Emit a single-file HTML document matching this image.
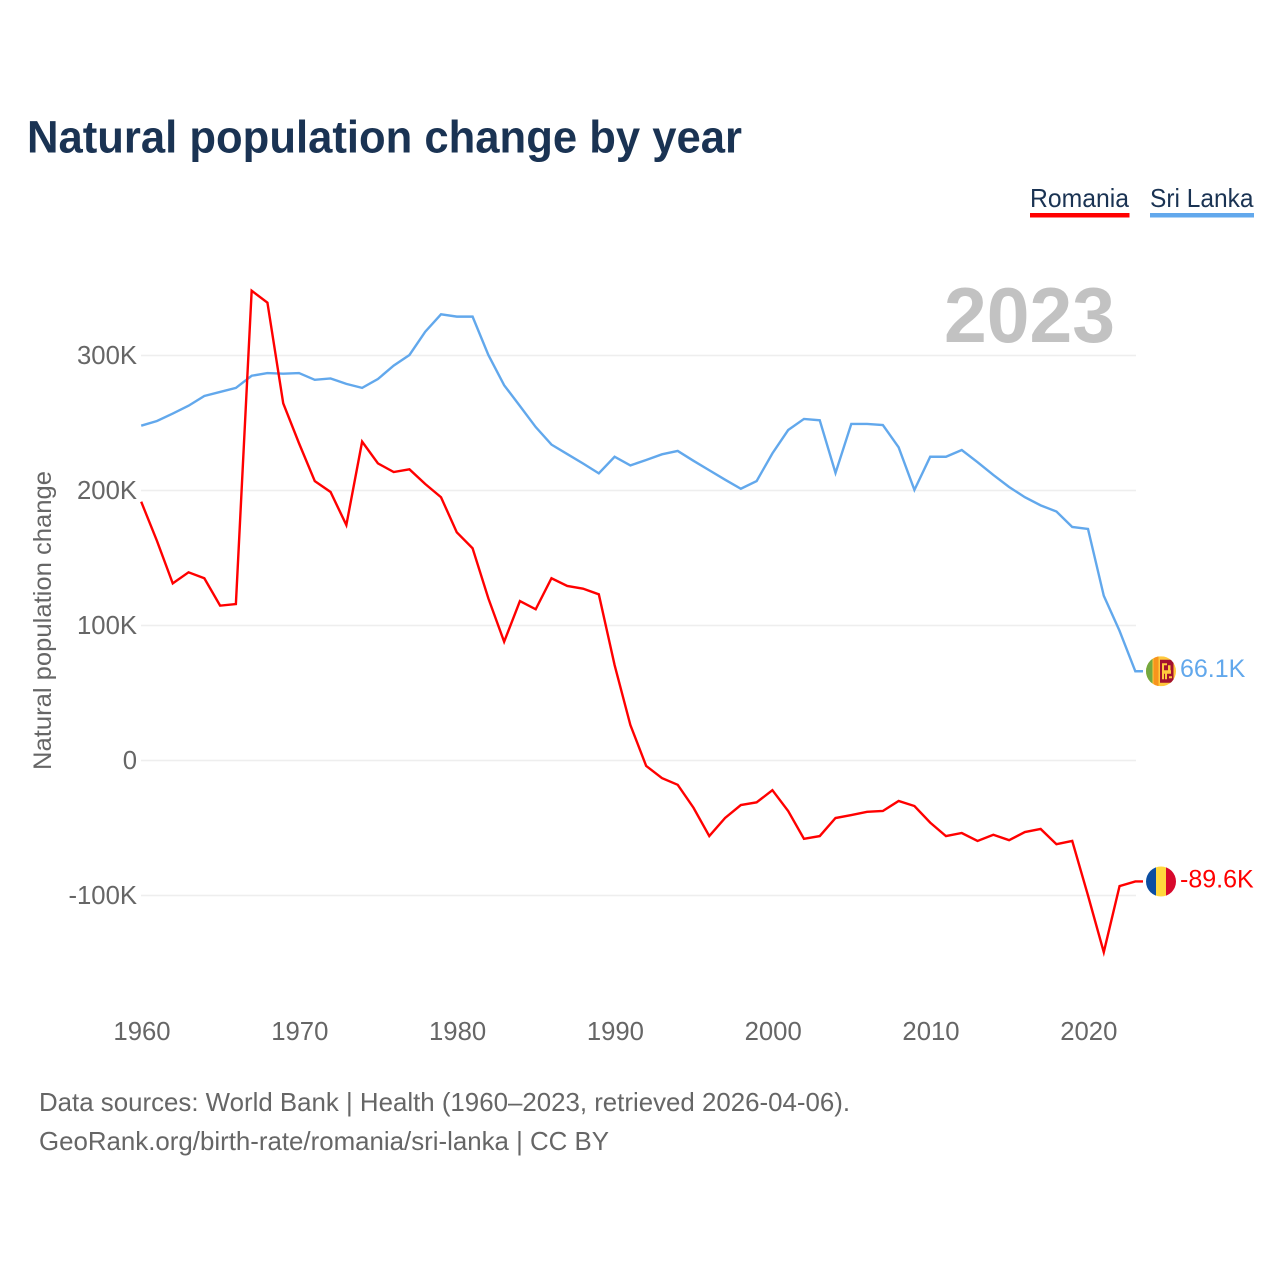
<!DOCTYPE html>
<html lang="en">
<head>
<meta charset="utf-8">
<title>Natural population change by year</title>
<style>
html,body{margin:0;padding:0;background:#fff;}
svg{display:block;}
text{font-family:"Liberation Sans",sans-serif;}
</style>
</head>
<body>
<svg id="chart" xmlns="http://www.w3.org/2000/svg" width="1280" height="1280" viewBox="0 0 1280 1280">
  <rect x="0" y="0" width="1280" height="1280" fill="#ffffff"/>
  <defs>
    <clipPath id="flag-clip"><circle cx="0" cy="0" r="15"/></clipPath>
  </defs>
  <text x="27" y="152.5" font-size="45" font-weight="700" fill="#1a3353" textLength="715" lengthAdjust="spacingAndGlyphs">Natural population change by year</text>

  <text x="1030" y="207" font-size="26" fill="#1a3353" textLength="99" lengthAdjust="spacingAndGlyphs">Romania</text>
  <rect x="1030" y="213" width="99.5" height="4.5" fill="#ff0000"/>
  <text x="1150" y="207" font-size="26" fill="#1a3353" textLength="103.5" lengthAdjust="spacingAndGlyphs">Sri Lanka</text>
  <rect x="1150" y="213" width="104" height="4.5" fill="#62a8ec"/>

  <g id="grid"></g>
  <g id="y-axis"></g>
  <g id="x-axis"></g>

  <text x="944" y="342" font-size="78" font-weight="700" fill="#c2c2c2" textLength="171" lengthAdjust="spacingAndGlyphs">2023</text>

  <text transform="translate(51,770) rotate(-90)" x="0" y="0" font-size="25" fill="#666666" textLength="299" lengthAdjust="spacingAndGlyphs">Natural population change</text>

  <g id="series"></g>

  <g id="flag-sri-lanka">
    <g clip-path="url(#flag-clip)">
      <rect x="-15" y="-15" width="30" height="30" fill="#ffc93d"/>
      <rect x="-15" y="-15" width="6.5" height="30" fill="#74a83f"/>
      <rect x="-7.5" y="-15" width="5" height="30" fill="#f7941d"/>
      <rect x="-1" y="-11.5" width="13.5" height="23" fill="#a3122f"/>
      <rect x="1" y="-8" width="2" height="16" fill="#ffc93d"/>
      <rect x="3" y="-8" width="3" height="2" fill="#ffc93d"/>
      <rect x="3" y="-1" width="7" height="3.5" fill="#ffc93d"/>
      <rect x="7" y="-6" width="2.5" height="6" fill="#ffc93d"/>
      <rect x="4" y="2" width="2" height="6" fill="#ffc93d"/>
      <rect x="8" y="5" width="3" height="2" fill="#ffc93d"/>
    </g>
  </g>
  <g id="flag-romania">
    <g clip-path="url(#flag-clip)">
      <rect x="-15" y="-15" width="10" height="30" fill="#0b4ea2"/>
      <rect x="-5" y="-15" width="10" height="30" fill="#ffd83d"/>
      <rect x="5" y="-15" width="10" height="30" fill="#d8092c"/>
    </g>
  </g>
  <text id="value-sri-lanka" font-size="25" fill="#62a8ec"></text>
  <text id="value-romania" font-size="25" fill="#ff0000"></text>

  <text x="39" y="1111" font-size="26" fill="#666666" textLength="811" lengthAdjust="spacingAndGlyphs">Data sources: World Bank | Health (1960–2023, retrieved 2026-04-06).</text>
  <text x="39" y="1150" font-size="26" fill="#666666" textLength="570" lengthAdjust="spacingAndGlyphs">GeoRank.org/birth-rate/romania/sri-lanka | CC BY</text>
</svg>
<script>
const startYear = 1960;
const romania = [191.7,162.6,131.2,139.4,135,114.7,115.9,348,339.1,264.6,235,207,198.9,174.4,236.2,220.1,213.7,215.7,204.8,195,169,157.2,120.1,88,118.1,112,135,129.3,127.3,123.1,70.7,26.3,-4,-13,-18,-35,-56,-42.6,-33,-31,-22,-37.4,-58,-56,-42.6,-40.4,-38,-37.4,-30,-33.7,-46,-56,-53.7,-59.6,-55,-59,-53,-50.7,-62,-59.6,-100,-142,-93,-89.6];
const sriLanka = [248,251.5,257,262.8,270,273,276,285,287,286.5,287,282,283,279,276,282.6,292.5,300.4,317.6,330.5,328.8,328.8,300.4,278,262.6,247,234,227,220,212.7,225,218.6,222.6,226.8,229.3,222,215,208,201.3,207,227.5,244.8,253,252,213,249.3,249.3,248.5,232,200.4,225,225,230,221,211.5,202.6,195,189,184.4,173,171.5,122,96,66.1];
const yTicks = [300,200,100,0,-100];
const yTickLabels = ["300K","200K","100K","0","-100K"];
const xTicks = [1960,1970,1980,1990,2000,2010,2020];
const xTickLabels = ["1960","1970","1980","1990","2000","2010","2020"];

const NS = "http://www.w3.org/2000/svg";
function xScale(year) { return 141.2 + (year - 1960) * 15.78; }
function yScale(v) { return 760.5 - v * 1.35; }

const grid = document.getElementById("grid");
const yAxis = document.getElementById("y-axis");
const xAxis = document.getElementById("x-axis");
const series = document.getElementById("series");

yTicks.forEach(function (t, i) {
  const line = document.createElementNS(NS, "line");
  
  
  line.setAttribute("x1", 141);
  line.setAttribute("x2", 1136);
  line.setAttribute("y1", yScale(t));
  line.setAttribute("y2", yScale(t));
  line.setAttribute("stroke", "#eeeeee");
  line.setAttribute("stroke-width", "1.5");
  grid.appendChild(line);

  const label = document.createElementNS(NS, "text");
  
  
  label.setAttribute("x", 137);
  label.setAttribute("y", yScale(t) + 8.5);
  label.setAttribute("text-anchor", "end");
  label.setAttribute("font-size", "25.7");
  label.setAttribute("fill", "#666666");
  label.textContent = yTickLabels[i];
  yAxis.appendChild(label);
});

xTicks.forEach(function (t, i) {
  const label = document.createElementNS(NS, "text");
  
  
  label.setAttribute("x", xScale(t) + 0.8);
  label.setAttribute("y", 1040);
  label.setAttribute("text-anchor", "middle");
  label.setAttribute("font-size", "25.7");
  label.setAttribute("fill", "#666666");
  label.textContent = xTickLabels[i];
  xAxis.appendChild(label);
});

function linePoints(values) {
  const pts = values.map(function (v, i) {
    return xScale(startYear + i).toFixed(2) + "," + yScale(v).toFixed(2);
  });
  const last = values[values.length - 1];
  pts.push("1143," + yScale(last).toFixed(2));
  return pts.join(" ");
}

const sriLine = document.createElementNS(NS, "polyline");


sriLine.setAttribute("points", linePoints(sriLanka));
sriLine.setAttribute("fill", "none");
sriLine.setAttribute("stroke", "#62a8ec");
sriLine.setAttribute("stroke-width", "2.4");
sriLine.setAttribute("stroke-linejoin", "miter");
series.appendChild(sriLine);

const romLine = document.createElementNS(NS, "polyline");


romLine.setAttribute("points", linePoints(romania));
romLine.setAttribute("fill", "none");
romLine.setAttribute("stroke", "#ff0000");
romLine.setAttribute("stroke-width", "2.4");
romLine.setAttribute("stroke-linejoin", "miter");
series.appendChild(romLine);

function placeEnd(flagId, valueId, values) {
  const last = values[values.length - 1];
  const y = yScale(last);
  document.getElementById(flagId).setAttribute("transform", "translate(1161," + y.toFixed(2) + ")");
  const t = document.getElementById(valueId);
  t.setAttribute("x", 1180);
  t.setAttribute("y", (y + 5.8).toFixed(2));
  t.textContent = last.toFixed(1) + "K";
}
placeEnd("flag-sri-lanka", "value-sri-lanka", sriLanka);
placeEnd("flag-romania", "value-romania", romania);
</script>
</body>
</html>
